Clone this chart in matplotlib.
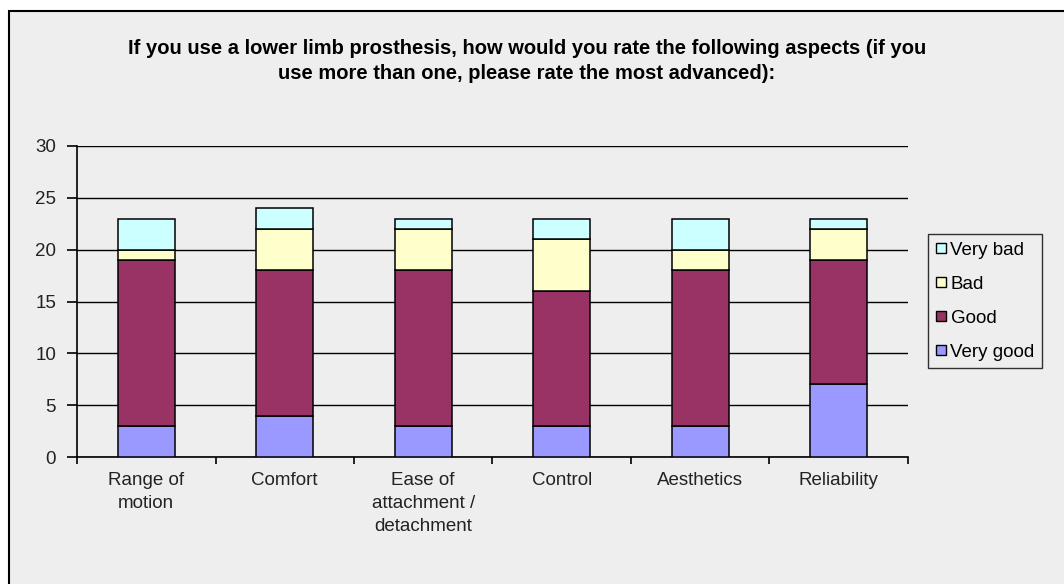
import matplotlib
matplotlib.use("Agg")
import matplotlib.pyplot as plt
from matplotlib import font_manager
from matplotlib.patches import Rectangle
from matplotlib.lines import Line2D
import numpy as np

categories = ["Range of\nmotion", "Comfort", "Ease of\nattachment /\ndetachment",
              "Control", "Aesthetics", "Reliability"]
very_good = [3, 4, 3, 3, 3, 7]
good = [16, 14, 15, 13, 15, 12]
bad = [1, 4, 4, 5, 2, 3]
very_bad = [3, 2, 1, 2, 3, 1]

series = [("Very good", very_good, "#9999FF"),
          ("Good", good, "#993366"),
          ("Bad", bad, "#FFFFCC"),
          ("Very bad", very_bad, "#CCFFFF")]

title = ("If you use a lower limb prosthesis, how would you rate the following aspects (if you\n"
         "use more than one, please rate the most advanced):")

names = {f.name for f in font_manager.fontManager.ttflist}
body_font = "Liberation Sans" if "Liberation Sans" in names else "DejaVu Sans"

BG = "#EEEEEE"
W, H = 1064, 584
fig = plt.figure(figsize=(W / 100, H / 100), dpi=100, facecolor="white")

# chart frame: gray panel with a black edge on the left and top
fig.patches.append(Rectangle((9 / W, -0.1), 1.2, 1 - 11 / H + 0.1, transform=fig.transFigure,
                             facecolor=BG, edgecolor="black", linewidth=1.5, zorder=-5))

ax = fig.add_axes([77 / W, 1 - 457 / H, (908 - 77) / W, (457 - 146) / H])
ax.set_facecolor(BG)

x = np.arange(len(categories))
bottom = np.zeros(len(categories))
for name, vals, color in series:
    ax.bar(x, vals, width=0.41, bottom=bottom, color=color, edgecolor="black",
           linewidth=1.1, zorder=3, label=name)
    bottom += np.array(vals)

ax.set_xlim(-0.5, len(categories) - 0.5)
ax.set_ylim(0, 30)
ax.set_yticks(range(0, 31, 5))
ax.yaxis.grid(True, color="black", linewidth=1.0, zorder=0)
ax.set_axisbelow(True)

for s in ("top", "right"):
    ax.spines[s].set_visible(False)
for s in ("left", "bottom"):
    ax.spines[s].set_linewidth(1.2)

ax.set_xticks(x)
ax.set_xticklabels(categories, fontsize=13.5, family=body_font, color="#222222",
                   linespacing=1.45)
ax.set_xticks(np.arange(-0.5, len(categories)), minor=True)
ax.tick_params(axis="x", which="major", length=0, pad=11)
ax.tick_params(axis="x", which="minor", length=5, width=1.2, direction="out")
ax.tick_params(axis="y", length=7, width=1.2, pad=8, labelsize=13.5, labelcolor="#222222")
for lbl in ax.get_yticklabels():
    lbl.set_family(body_font)

fig.text(527 / W, 1 - 61 / H, title, ha="center", va="center", fontsize=14.5,
         fontweight="bold", family=body_font, linespacing=1.45)

handles = [Line2D([], [], marker="s", linestyle="none", markersize=7.5,
                  markerfacecolor=c, markeredgecolor="black", markeredgewidth=1.0)
           for _, _, c in series[::-1]]
labels = [n for n, _, _ in series[::-1]]
leg = fig.legend(handles, labels, loc="upper left",
                 bbox_to_anchor=(928 / W, 1 - 234 / H),
                 prop={"family": body_font, "size": 13.5}, frameon=True, fancybox=False,
                 handlelength=0.6, handletextpad=0.2, borderpad=0.4, labelspacing=0.9,
                 borderaxespad=0)
leg.get_frame().set_edgecolor("black")
leg.get_frame().set_facecolor(BG)
leg.get_frame().set_linewidth(1.0)

fig.savefig("out.png", dpi=100, facecolor="white")
